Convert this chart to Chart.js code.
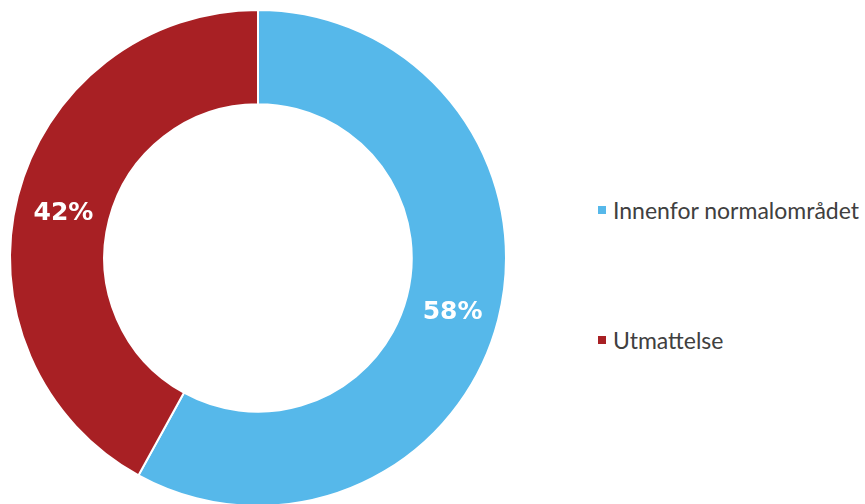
<!DOCTYPE html>
<html>
<head>
<meta charset="utf-8">
<script src="https://cdn.jsdelivr.net/npm/chart.js@4"></script>
<style>
  html, body { margin: 0; padding: 0; background: #fff; }
  #wrap { position: relative; width: 865px; height: 504px; overflow: hidden; }
  #chartBox { position: absolute; left: 0; top: 0; width: 516px; height: 510px; }
  #legend { position: absolute; left: 598px; top: 0; font-family: Lato, "Open Sans", sans-serif; font-size: 23px; color: #404040; }
  .item { position: absolute; white-space: nowrap; display: flex; align-items: center; height: 30px; }
  .box { width: 8px; height: 8px; margin-right: 7px; }
</style>
</head>
<body>
<div id="wrap">
  <div id="chartBox"><canvas id="donut" width="516" height="510"></canvas></div>
  <div id="legend"></div>
</div>
<script>
const categories = ['Innenfor normalområdet', 'Utmattelse'];
const shares = [58, 42];
const colors = ['#56B8EA', '#A82024'];

// percentage labels in the middle of each ring segment
const sliceLabels = {
    id: 'sliceLabels',
    afterDatasetsDraw(chart) {
        const ctx = chart.ctx;
        const meta = chart.getDatasetMeta(0);
        ctx.save();
        ctx.font = 'bold 25px "DejaVu Sans", sans-serif';
        ctx.fillStyle = '#ffffff';
        ctx.textAlign = 'center';
        ctx.textBaseline = 'middle';
        meta.data.forEach(function(arc, i) {
            const pos = arc.tooltipPosition();
            ctx.fillText(shares[i] + '%', pos.x, pos.y + 5);
        });
        ctx.restore();
    }
};

const ctxDonut = document.getElementById('donut').getContext('2d');
const donutChart = new Chart(ctxDonut, {
    type: 'doughnut',
    data: {
        labels: categories,
        datasets: [{
            data: shares,
            backgroundColor: colors,
            borderColor: '#ffffff',
            borderWidth: 2
        }]
    },
    options: {
        responsive: false,
        animation: false,
        cutout: '62%',
        layout: { padding: { top: 9, left: 9, right: 9, bottom: 3 } },
        plugins: {
            legend: { display: false },
            tooltip: { enabled: false }
        }
    },
    plugins: [sliceLabels]
});

const legendEl = document.getElementById('legend');
const legendTops = [195, 325];
categories.forEach(function(name, i) {
    const row = document.createElement('div');
    row.className = 'item';
    row.style.top = legendTops[i] + 'px';
    row.innerHTML = '<span class="box" style="background:' + colors[i] + '"></span><span>' + name + '</span>';
    legendEl.appendChild(row);
});
</script>
</body>
</html>
